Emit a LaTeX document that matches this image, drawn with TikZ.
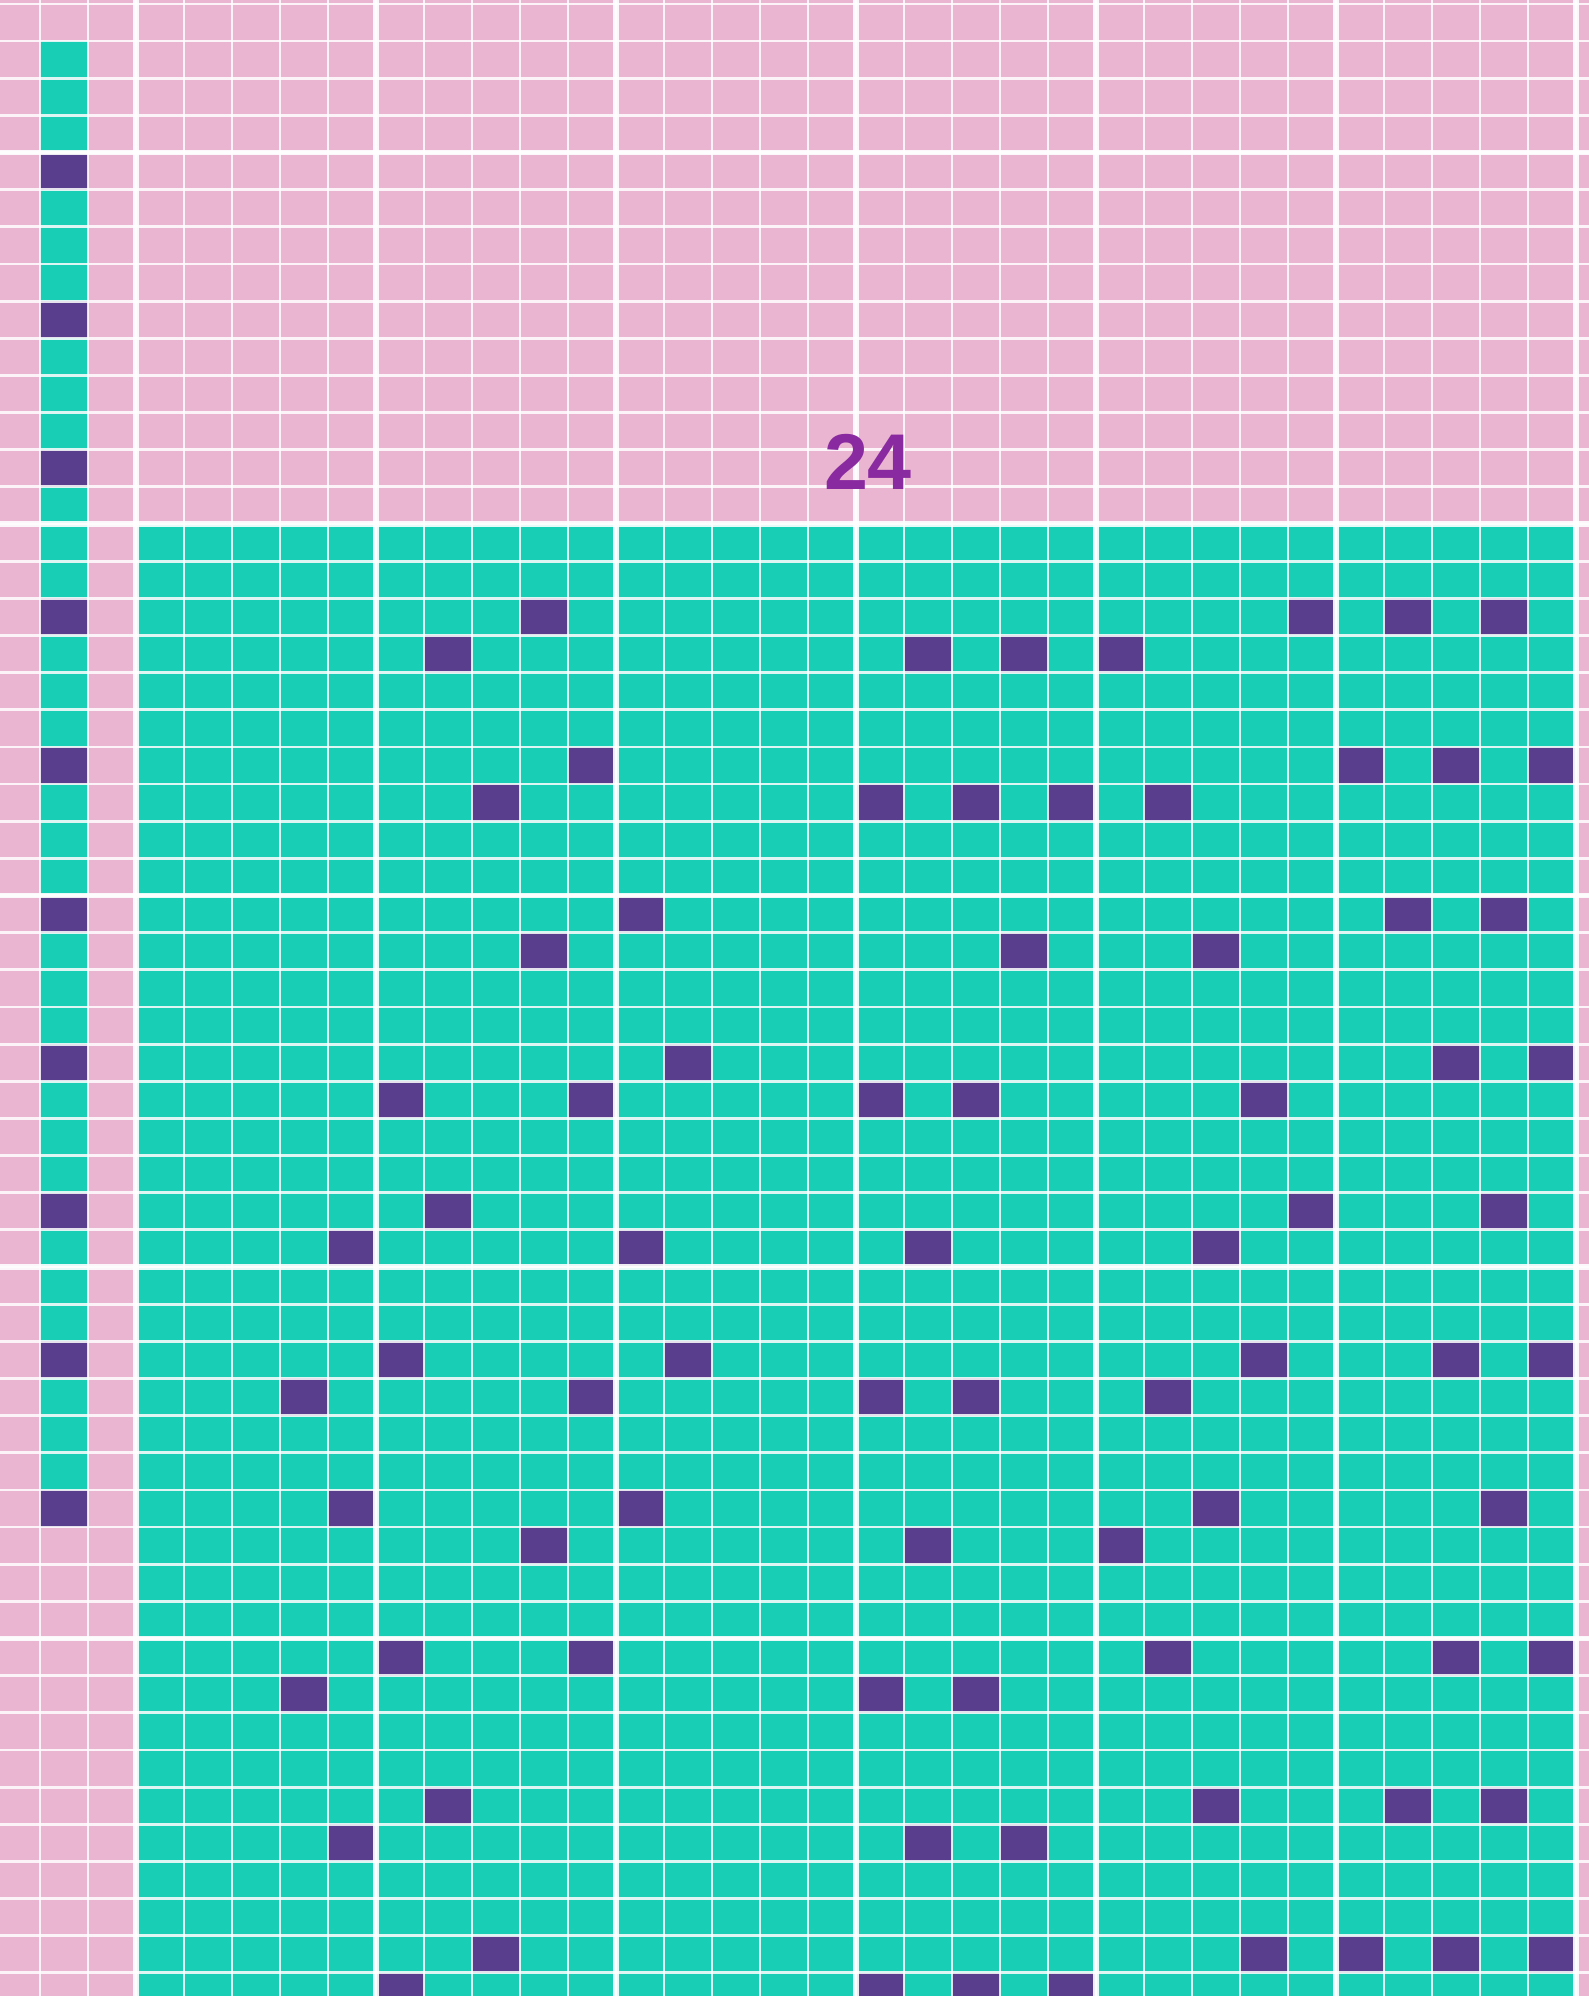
\documentclass[tikz,border=0pt]{standalone}
\usepackage{fontspec}
\newfontfamily\numfont{Liberation Sans}
\usepackage{tikz}
\definecolor{paper}{RGB}{233,181,208}
\definecolor{aqua}{RGB}{24,206,180}
\definecolor{plum}{RGB}{88,62,140}
\definecolor{numink}{RGB}{138,42,160}

\begin{document}
\begin{tikzpicture}[
    x=0.02cm, y=-0.02cm,
    cell1/.style={fill=aqua},
    cell2/.style={fill=plum},
    line1/.style={draw=white, opacity=0.85, line width=1.6pt},
    line2/.style={draw=white, opacity=0.9, line width=3pt},
    label1/.style={text=numink, inner sep=0pt, font={\numfont\fontsize{45}{45}\selectfont\bfseries}}
]
    \useasboundingbox (0,0) rectangle (1589,1996);
    \clip (0,0) rectangle (1589,1996);
    \fill[paper] (0,0) rectangle (1589,1996);
    \fill[cell1] (136,524) rectangle (1576,1996);
    \fill[cell1] (40,{524-13*37.15}) rectangle (88,{524+27*37.15});

    \foreach \r in {-10,-6,...,26}
        \fill[cell2] (40,{524+37.15*\r}) rectangle ++(48,37.15);

    \foreach \r/\cl in {2/{8,24,26,28}, 3/{6,16,18,20}, 6/{9,25,27,29}, 7/{7,15,17,19,21},
                        10/{10,26,28}, 11/{8,18,22}, 14/{11,27,29}, 15/{5,9,15,17,23},
                        18/{6,24,28}, 19/{4,10,16,22}, 22/{5,11,23,27,29}, 23/{3,9,15,17,21},
                        26/{4,10,22,28}, 27/{8,16,20}, 30/{5,9,21,27,29}, 31/{3,15,17},
                        34/{6,22,26,28}, 35/{4,16,18}, 38/{7,23,25,27,29}, 39/{5,15,17,19}}
        \foreach \c in \cl
            \fill[cell2] ({136+48*\c},{524+37.15*\r}) rectangle ++(48,37.15);

    \foreach \c in {-2,...,30}
        \draw[line1] ({136+48*\c},0) -- ({136+48*\c},1996);
    \foreach \r in {-14,...,40}
        \draw[line1] (0,{524+37.15*\r}) -- (1589,{524+37.15*\r});
    \foreach \c in {0,5,...,30}
        \draw[line2] ({136+48*\c},0) -- ({136+48*\c},1996);
    \foreach \r in {-10,0,...,40}
        \draw[line2] (0,{524+37.15*\r}) -- (1589,{524+37.15*\r});

    \node[label1] (num) at (868,462) {24};
\end{tikzpicture}
\end{document}
